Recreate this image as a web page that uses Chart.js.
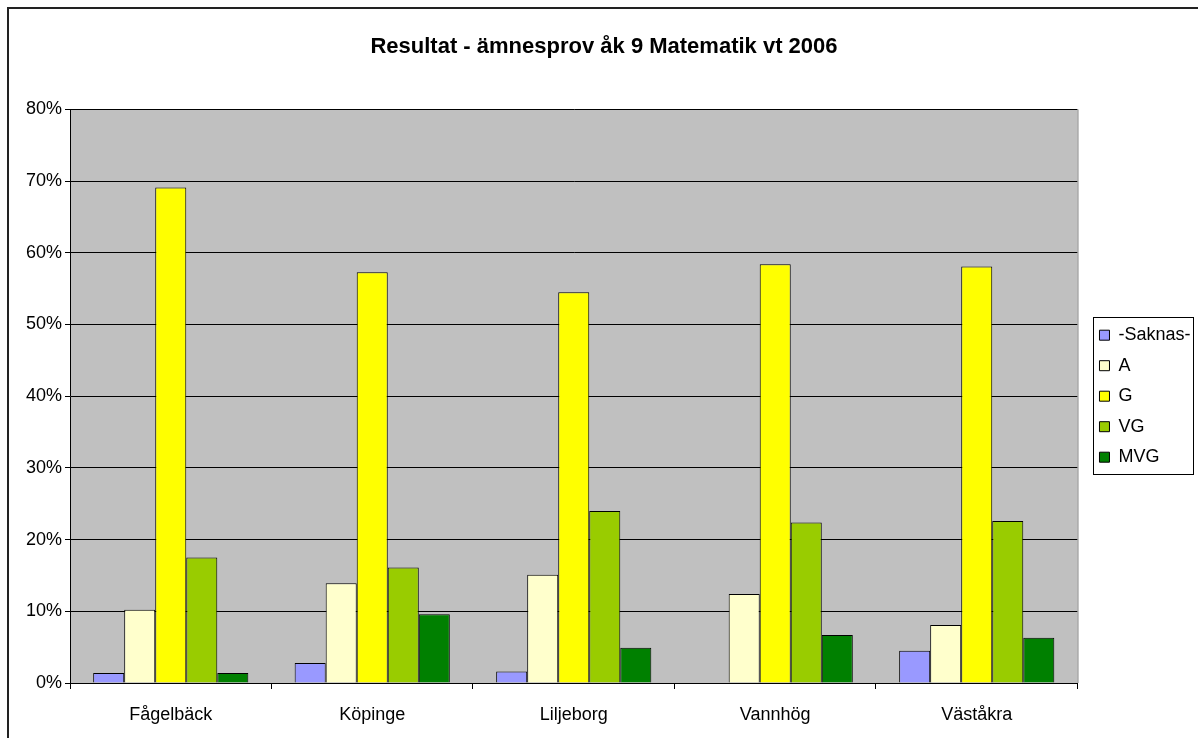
<!DOCTYPE html>
<html lang="sv">
<head>
<meta charset="UTF-8">
<title>Resultat - ämnesprov åk 9 Matematik vt 2006</title>
<script src="https://cdn.jsdelivr.net/npm/chart.js"></script>
<style>
    html, body { margin: 0; padding: 0; background: #fff; }
    #wrap { width: 1198px; height: 738px; position: relative; }
</style>
</head>
<body>
<div id="wrap"><canvas id="grafico"></canvas></div>

<script>
    // data (percent of pupils)
    const skolor = ['Fågelbäck', 'Köpinge', 'Liljeborg', 'Vannhög', 'Väståkra'];
    const saknas = [1.4, 2.8, 1.6, 0, 4.5];
    const betygA = [10.2, 13.9, 15.1, 12.4, 8.1];
    const betygG = [69.1, 57.3, 54.5, 58.4, 58.1];
    const betygVG = [17.5, 16.1, 24.0, 22.4, 22.6];
    const betygMVG = [1.4, 9.6, 4.9, 6.7, 6.3];
    const yMax = 80;
    const yStep = 10;

    const FONT = "Arial, 'Liberation Sans', sans-serif";
    Chart.defaults.font.family = FONT;
    Chart.defaults.color = '#000';

    // room between the plot and the legend
    const LEGEND_EXTRA = 7;
    const LEGEND_SHIFT = 9.5;

    // grey plot area, outer frame, legend frame
    const ramar = {
        id: 'ramar',
        beforeLayout(chart) {
            const lg = chart.legend;
            if (lg && !lg._gapPatched) {
                const fit = lg.fit.bind(lg);
                lg.fit = function () { fit(); this.width += LEGEND_EXTRA; };
                lg._gapPatched = true;
            }
        },
        afterLayout(chart) {
            chart.legend.left += LEGEND_SHIFT;
        },
        beforeDraw(chart) {
            const ctx = chart.ctx;
            const a = chart.chartArea;
            ctx.save();
            ctx.fillStyle = '#fff';
            ctx.fillRect(0, 0, chart.width, chart.height);
            ctx.strokeStyle = '#222';
            ctx.lineWidth = 2;
            ctx.strokeRect(8, 8, chart.width + 20, chart.height + 20);
            ctx.fillStyle = '#c0c0c0';
            ctx.fillRect(a.left, a.top, a.right - a.left, a.bottom - a.top);
            ctx.restore();
        },
        beforeDatasetsDraw(chart) {
            const ctx = chart.ctx;
            const a = chart.chartArea;
            ctx.save();
            ctx.strokeStyle = '#808080';
            ctx.lineWidth = 1;
            ctx.beginPath();
            ctx.moveTo(a.right + 0.5, a.top);
            ctx.lineTo(a.right + 0.5, a.bottom);
            ctx.stroke();
            ctx.restore();
        },
        afterDraw(chart) {
            const hb = chart.legend.legendHitBoxes;
            if (!hb || !hb.length) return;
            const ctx = chart.ctx;
            const first = hb[0];
            const last = hb[hb.length - 1];
            let right = 0;
            hb.forEach(h => { right = Math.max(right, h.left + h.width); });
            ctx.save();
            ctx.strokeStyle = '#000';
            ctx.lineWidth = 1;
            ctx.strokeRect(Math.round(first.left - 6) + 0.5, Math.round(first.top - 9) + 0.5,
                Math.round(right - first.left + 9), Math.round(last.top + last.height - first.top + 17));
            ctx.restore();
        }
    };

    function serie(label, data, color) {
        return {
            label: label,
            data: data,
            backgroundColor: color,
            borderColor: '#000',
            borderWidth: 1,
            categoryPercentage: 0.77,
            barPercentage: 1
        };
    }

    new Chart(document.getElementById('grafico'), {
        type: 'bar',
        data: {
            labels: skolor,
            datasets: [
                serie('-Saknas-', saknas, '#9999ff'),
                serie('A', betygA, '#ffffcc'),
                serie('G', betygG, '#ffff00'),
                serie('VG', betygVG, '#99cc00'),
                serie('MVG', betygMVG, '#008000')
            ]
        },
        options: {
            responsive: true,
            maintainAspectRatio: false,
            animation: false,
            layout: { padding: { left: 10, right: 0, top: 10, bottom: 0 } },
            plugins: {
                title: {
                    display: true,
                    text: 'Resultat - ämnesprov åk 9 Matematik vt 2006',
                    font: { size: 22, weight: 'bold' },
                    padding: { top: 24, bottom: 49 }
                },
                legend: {
                    position: 'right',
                    fullSize: false,
                    labels: {
                        boxWidth: 10,
                        boxHeight: 10,
                        padding: 12.5,
                        font: { size: 18 }
                    }
                },
                tooltip: { enabled: false }
            },
            scales: {
                x: {
                    grid: {
                        drawOnChartArea: false,
                        drawTicks: true,
                        tickLength: 6,
                        color: '#000',
                        offset: true
                    },
                    border: { color: '#000' },
                    ticks: { font: { size: 18 }, padding: 15 },
                    afterFit(scale) { scale.height = 55; }
                },
                y: {
                    min: 0,
                    max: yMax,
                    ticks: {
                        stepSize: yStep,
                        font: { size: 18 },
                        padding: 3,
                        callback: v => v + '%'
                    },
                    grid: { color: '#000', tickLength: 5 },
                    border: { color: '#000' },
                    afterFit(scale) { scale.width = 60; }
                }
            }
        },
        plugins: [ramar]
    });
</script>
</body>
</html>
